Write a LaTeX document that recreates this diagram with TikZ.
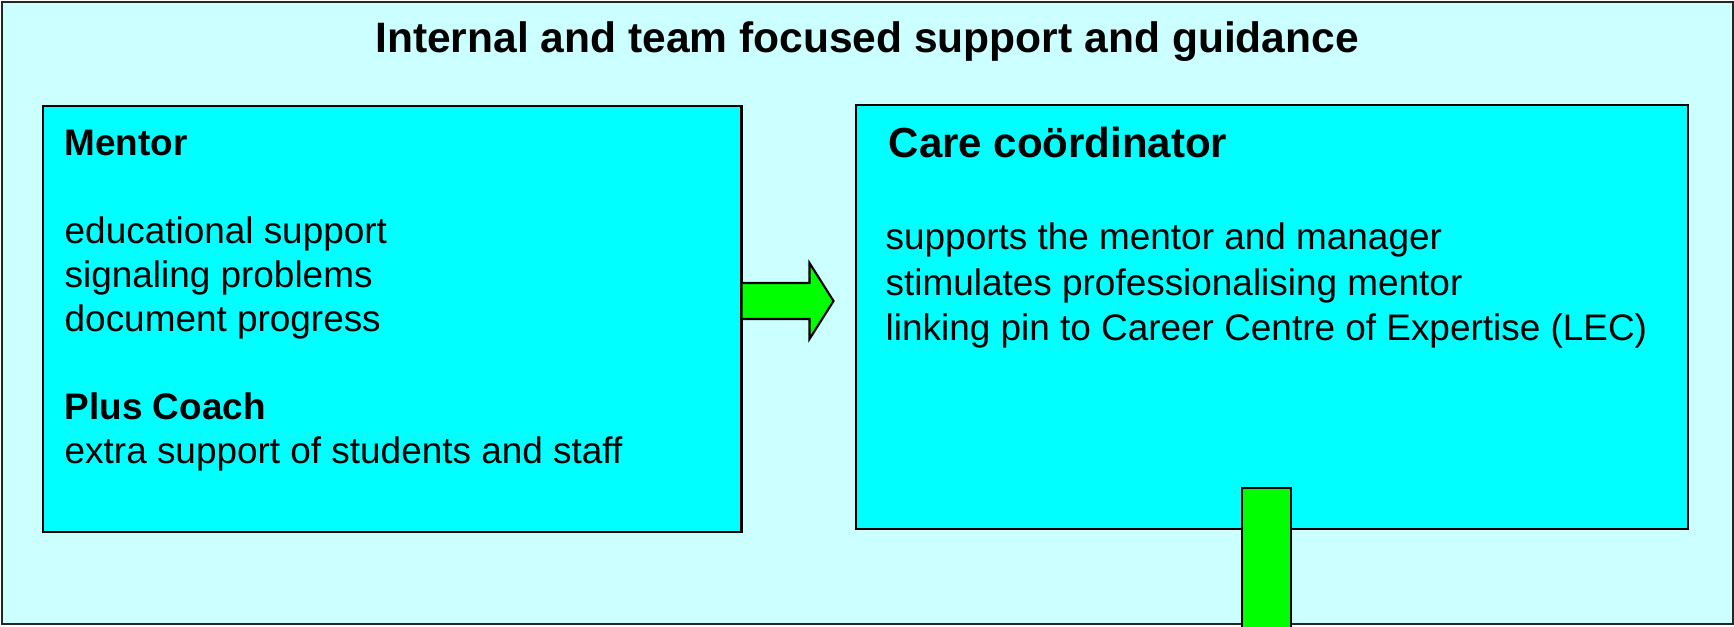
\documentclass[tikz,border=0pt]{standalone}
\usepackage{fontspec}
\setmainfont{Liberation Sans}
\usepackage{tikz}
\usetikzlibrary{positioning}
\definecolor{paleCyan}{RGB}{204,255,255}
\definecolor{boxCyan}{RGB}{0,255,255}
\definecolor{barGreen}{RGB}{0,255,0}
\tikzset{rolebox/.style = {rectangle, draw = black, fill = boxCyan, line width = 0.6pt, inner sep = 0, anchor = north west}}
\tikzset{rtext/.style = {draw = none, inner sep = 0, anchor = base west, align = left, font = \fontsize{10.5}{12.5}\selectfont}}
\tikzset{greenbar/.style = {draw = black, fill = barGreen, line width = 0.6pt}}

\begin{document}
\begin{tikzpicture}[x = 0.01cm, y = -0.01cm]
\useasboundingbox (0, 0) rectangle (1734, 626);
\node [rectangle, draw = black!85, fill = paleCyan, line width = 0.6pt, inner sep = 0, anchor = north west, minimum width = 17.30cm, minimum height = 6.22cm] (outer) at (1, 1) {};
\node [draw = none, inner sep = 0, anchor = base, font = \fontsize{12.1}{14}\selectfont\bfseries] (title) at (867, 52) {Internal and team focused support and guidance};
\node [rolebox, minimum width = 6.98cm, minimum height = 4.26cm] (mentor) at (42, 105) {};
\node [rolebox, minimum width = 8.31cm, minimum height = 4.24cm] (care) at (855, 104) {};
% base of a multi-line node is its last line
\node [rtext] (mentortext) at (64, 463) {\textbf{Mentor}\\[12.5pt]
  educational support\\
  signaling problems\\
  document progress\\[12.5pt]
  \textbf{Plus Coach}\\
  extra support of students and staff};
\node [rtext, font = \fontsize{11.95}{14}\selectfont\bfseries] (caretitle) at (888, 157) {Care co\"ordinator};
\node [rtext, font = \fontsize{10.5}{12.8}\selectfont] (caretext) at (885, 340) {supports the mentor and manager\\
  stimulates professionalising mentor\\
  linking pin to Career Centre of Expertise (LEC)};
\coordinate (tail) at (mentor.east |- 0, 301);
\draw [greenbar] (tail) ++(0, -18) -- ++(67, 0) -- ++(0, -20) -- ++(24, 38) -- ++(-24, 38) -- ++(0, -20) -- ++(-67, 0);
\draw [greenbar] (1242, 488) rectangle (1291, 632);
\end{tikzpicture}
\end{document}
